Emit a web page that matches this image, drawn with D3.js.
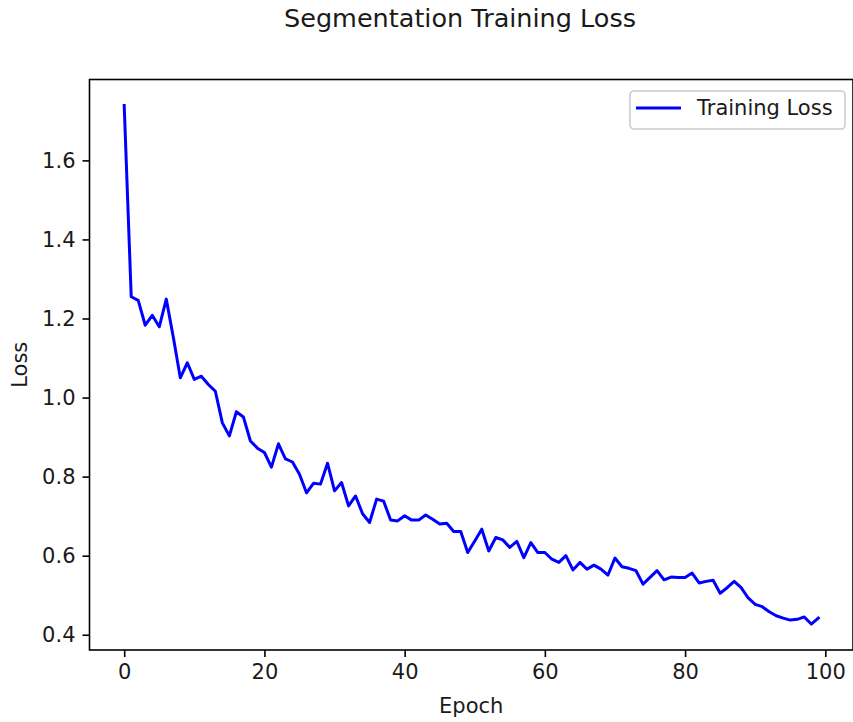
<!DOCTYPE html>
<html>
<head>
<meta charset="utf-8">
<script src="https://cdn.jsdelivr.net/npm/d3@7.9.0/dist/d3.min.js"></script>
<style>
  body { margin: 0; background: #fff; }
  svg { display: block; font-family: "DejaVu Sans", sans-serif; }
</style>
</head>
<body>
<svg id="chart" width="853" height="722"></svg>
<script>
// Training loss per epoch
const epochs = d3.range(0, 100);
const lossValues = [
  1.739, 1.255, 1.246, 1.183, 1.208, 1.179, 1.249, 1.153, 1.050, 1.088,
  1.046, 1.054, 1.033, 1.016, 0.936, 0.903, 0.964, 0.951, 0.890, 0.872,
  0.861, 0.824, 0.883, 0.845, 0.837, 0.806, 0.759, 0.783, 0.781, 0.834,
  0.764, 0.785, 0.726, 0.751, 0.706, 0.684, 0.743, 0.738, 0.690, 0.688,
  0.701, 0.690, 0.690, 0.703, 0.692, 0.680, 0.682, 0.661, 0.661, 0.608,
  0.637, 0.667, 0.612, 0.646, 0.640, 0.621, 0.636, 0.595, 0.633, 0.608,
  0.608, 0.591, 0.583, 0.600, 0.564, 0.583, 0.566, 0.576, 0.566, 0.551,
  0.594, 0.572, 0.568, 0.562, 0.528, 0.545, 0.562, 0.539, 0.546, 0.545,
  0.545, 0.556, 0.531, 0.535, 0.538, 0.505, 0.519, 0.535, 0.519, 0.493,
  0.477, 0.471, 0.458, 0.448, 0.442, 0.437, 0.439, 0.445, 0.427, 0.442
];
const xTicks = [0, 20, 40, 60, 80, 100];
const yTicks = [0.4, 0.6, 0.8, 1.0, 1.2, 1.4, 1.6];

const data = epochs.map((e, i) => ({ epoch: e, loss: lossValues[i] }));

const svg = d3.select('#chart');
const plot = { left: 89.5, right: 853, top: 79.5, bottom: 650 };

// matplotlib-style 5% margins
function padded(ext) {
  const m = (ext[1] - ext[0]) * 0.05;
  return [ext[0] - m, ext[1] + m];
}

const x = d3.scaleLinear()
  .domain(padded(d3.extent(epochs)))
  .range([plot.left, plot.right]);
const y = d3.scaleLinear()
  .domain(padded(d3.extent(lossValues)))
  .range([plot.bottom, plot.top]);

// line
const line = d3.line()
  .x(d => x(d.epoch))
  .y(d => y(d.loss));

svg.append('path')
  .datum(data)
  .attr('d', line)
  .attr('fill', 'none')
  .attr('stroke', '#0000ff')
  .attr('stroke-width', 3)
  .attr('stroke-linejoin', 'round')
  .attr('stroke-linecap', 'square');

// axes
const xAxis = svg.append('g')
  .attr('transform', `translate(0,${plot.bottom})`)
  .call(d3.axisBottom(x).tickValues(xTicks).tickSize(7).tickPadding(7).tickFormat(d3.format('d')));
const yAxis = svg.append('g')
  .attr('transform', `translate(${plot.left},0)`)
  .call(d3.axisLeft(y).tickValues(yTicks).tickSize(7).tickPadding(7).tickFormat(d3.format('.1f')));

[xAxis, yAxis].forEach(g => {
  g.select('.domain').remove();
  g.selectAll('.tick line').attr('stroke', '#000').attr('stroke-width', 1.6);
  g.selectAll('.tick text').attr('fill', '#1a1a1a').style('font-size', '21px').style('font-family', '"DejaVu Sans", sans-serif');
});

// frame
svg.append('rect')
  .attr('x', plot.left)
  .attr('y', plot.top)
  .attr('width', plot.right - plot.left)
  .attr('height', plot.bottom - plot.top)
  .attr('fill', 'none')
  .attr('stroke', '#000')
  .attr('stroke-width', 1.6);

// titles
svg.append('text')
  .attr('x', 460).attr('y', 27)
  .attr('text-anchor', 'middle')
  .attr('fill', '#1a1a1a')
  .style('font-size', '25.5px')
  .text('Segmentation Training Loss');

svg.append('text')
  .attr('x', (plot.left + plot.right) / 2).attr('y', 713)
  .attr('text-anchor', 'middle')
  .attr('fill', '#1a1a1a')
  .style('font-size', '21px')
  .text('Epoch');

svg.append('text')
  .attr('transform', `translate(27,${(plot.top + plot.bottom) / 2}) rotate(-90)`)
  .attr('text-anchor', 'middle')
  .attr('fill', '#1a1a1a')
  .style('font-size', '21px')
  .text('Loss');

// legend
const legend = svg.append('g').attr('transform', 'translate(630,91)');
legend.append('rect')
  .attr('width', 215).attr('height', 38)
  .attr('rx', 4)
  .attr('fill', '#fff')
  .attr('fill-opacity', 0.8)
  .attr('stroke', '#cccccc')
  .attr('stroke-width', 1.6);
legend.append('line')
  .attr('x1', 6).attr('x2', 51)
  .attr('y1', 17).attr('y2', 17)
  .attr('stroke', '#0000ff')
  .attr('stroke-width', 3);
legend.append('text')
  .attr('x', 67).attr('y', 24)
  .attr('fill', '#1a1a1a')
  .style('font-size', '21px')
  .text('Training Loss');
</script>
</body>
</html>
